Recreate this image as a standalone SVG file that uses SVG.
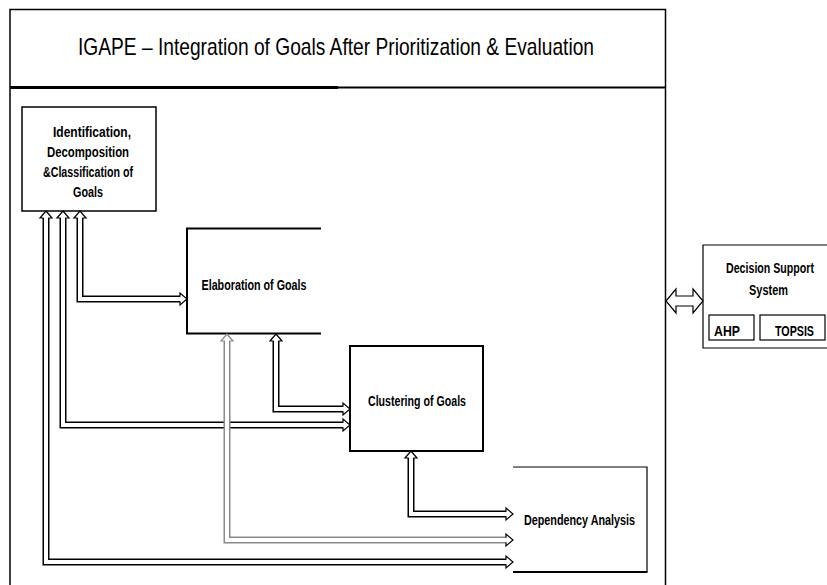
<svg xmlns="http://www.w3.org/2000/svg" width="827" height="585" viewBox="0 0 827 585">
<style>
.lbl{font-family:"Liberation Sans",Arial,sans-serif;font-weight:bold;font-size:15px;fill:#000;}
.box{fill:#fff;stroke:#000;}
.sh{fill:none;stroke:#000;stroke-width:7;stroke-linejoin:miter;}
.shg{fill:none;stroke:#8a8a8a;stroke-width:7;stroke-linejoin:miter;}
.in{fill:none;stroke:#fff;stroke-width:4;stroke-linejoin:miter;}
.hd{fill:#fff;stroke:#000;stroke-width:1.2;}
.hdg{fill:#fff;stroke:#8a8a8a;stroke-width:1.2;}
</style>
<defs>
<path id="ah" d="M-7,-2.3 L-7,-6 L0,0 L-7,6 L-7,2.3"/>
</defs>
<rect width="827" height="585" fill="#fff"/>
<g id="frame">
<path d="M10,590 V9.5 H665.5 V590" fill="none" stroke="#000" stroke-width="1.5"/>
<line x1="10" y1="87.5" x2="338" y2="87.5" stroke="#000" stroke-width="3"/>
<line x1="338" y1="87.5" x2="665.5" y2="87.5" stroke="#000" stroke-width="2"/>
<text x="336" y="55" font-family="'Liberation Sans',Arial,sans-serif" font-size="24" text-anchor="middle" textLength="516" lengthAdjust="spacingAndGlyphs">IGAPE – Integration of Goals After Prioritization &amp; Evaluation</text>
</g>
<g id="identification">
<rect class="box" x="22" y="107" width="134" height="104" stroke-width="1.5"/>
<text class="lbl" x="92" y="137" text-anchor="middle" textLength="78" lengthAdjust="spacingAndGlyphs">Identification,</text>
<text class="lbl" x="88" y="157" text-anchor="middle" textLength="82" lengthAdjust="spacingAndGlyphs">Decomposition</text>
<text class="lbl" x="88" y="177" text-anchor="middle" textLength="90" lengthAdjust="spacingAndGlyphs">&amp;Classification of</text>
<text class="lbl" x="88" y="197" text-anchor="middle" textLength="30" lengthAdjust="spacingAndGlyphs">Goals</text>
</g>
<g id="elaboration">
<path d="M321,228.5 H187 V333.5 H321" fill="#fff" stroke="#000" stroke-width="2"/>
<text class="lbl" x="254" y="290" text-anchor="middle" textLength="105" lengthAdjust="spacingAndGlyphs">Elaboration of Goals</text>
</g>
<g id="clustering">
<rect class="box" x="350" y="346" width="133" height="105" stroke-width="2"/>
<text class="lbl" x="417" y="406" text-anchor="middle" textLength="98" lengthAdjust="spacingAndGlyphs">Clustering of Goals</text>
</g>
<g id="dependency">
<path d="M513,467 H647 V572" fill="none" stroke="#000" stroke-width="1.2"/>
<line x1="513" y1="572" x2="647.5" y2="572" stroke="#000" stroke-width="2.2"/>
<text class="lbl" x="579.5" y="525" text-anchor="middle" textLength="111" lengthAdjust="spacingAndGlyphs">Dependency Analysis</text>
</g>
<g id="dss">
<path d="M830,245 H703 V348 H830" fill="#fff" stroke="#000" stroke-width="1.2"/>
<g transform="translate(770,273) scale(0.7,1)"><text class="lbl" x="0" y="0" text-anchor="middle" textLength="125.7" lengthAdjust="spacingAndGlyphs">Decision Support</text></g>
<g transform="translate(768.5,295) scale(0.7,1)"><text class="lbl" x="0" y="0" text-anchor="middle" textLength="55.7" lengthAdjust="spacingAndGlyphs">System</text></g>
<rect class="box" x="709" y="315" width="45" height="25" stroke-width="1.2"/>
<g transform="translate(727,336) scale(0.7,1)"><text class="lbl" x="0" y="0" text-anchor="middle" textLength="37" lengthAdjust="spacingAndGlyphs">AHP</text></g>
<rect class="box" x="760" y="315" width="65" height="25" stroke-width="1.2"/>
<g transform="translate(794.5,336) scale(0.7,1)"><text class="lbl" x="0" y="0" text-anchor="middle" textLength="55.7" lengthAdjust="spacingAndGlyphs">TOPSIS</text></g>
</g>
<g id="connectors">
<path class="sh" d="M80,218 V299 H180"/>
<path class="in" d="M80,218 V299 H180"/>
<use href="#ah" class="hd" transform="translate(80,211) rotate(-90)"/>
<use href="#ah" class="hd" transform="translate(187,299)"/>
<path class="sh" d="M63,218 V425 H343"/>
<path class="in" d="M63,218 V425 H343"/>
<use href="#ah" class="hd" transform="translate(63,211) rotate(-90)"/>
<use href="#ah" class="hd" transform="translate(350,425)"/>
<path class="sh" d="M46,218 V562 H506"/>
<path class="in" d="M46,218 V562 H506"/>
<use href="#ah" class="hd" transform="translate(46,211) rotate(-90)"/>
<use href="#ah" class="hd" transform="translate(513,562)"/>
<path class="shg" d="M227,341 V540 H506"/>
<path class="in" d="M227,341 V540 H506"/>
<use href="#ah" class="hdg" transform="translate(227,334) rotate(-90)"/>
<use href="#ah" class="hd" transform="translate(513,540)"/>
<path class="sh" d="M276,341 V409 H343"/>
<path class="in" d="M276,341 V409 H343"/>
<use href="#ah" class="hd" transform="translate(276,334) rotate(-90)"/>
<use href="#ah" class="hd" transform="translate(350,409)"/>
<path class="sh" d="M411,458 V514 H506"/>
<path class="in" d="M411,458 V514 H506"/>
<use href="#ah" class="hd" transform="translate(411,451) rotate(-90)"/>
<use href="#ah" class="hd" transform="translate(513,514)"/>
<polygon class="hd" points="666,301 676,289 676,296 693,296 693,289 703,301 693,313 693,306 676,306 676,313"/>
</g>
</svg>
